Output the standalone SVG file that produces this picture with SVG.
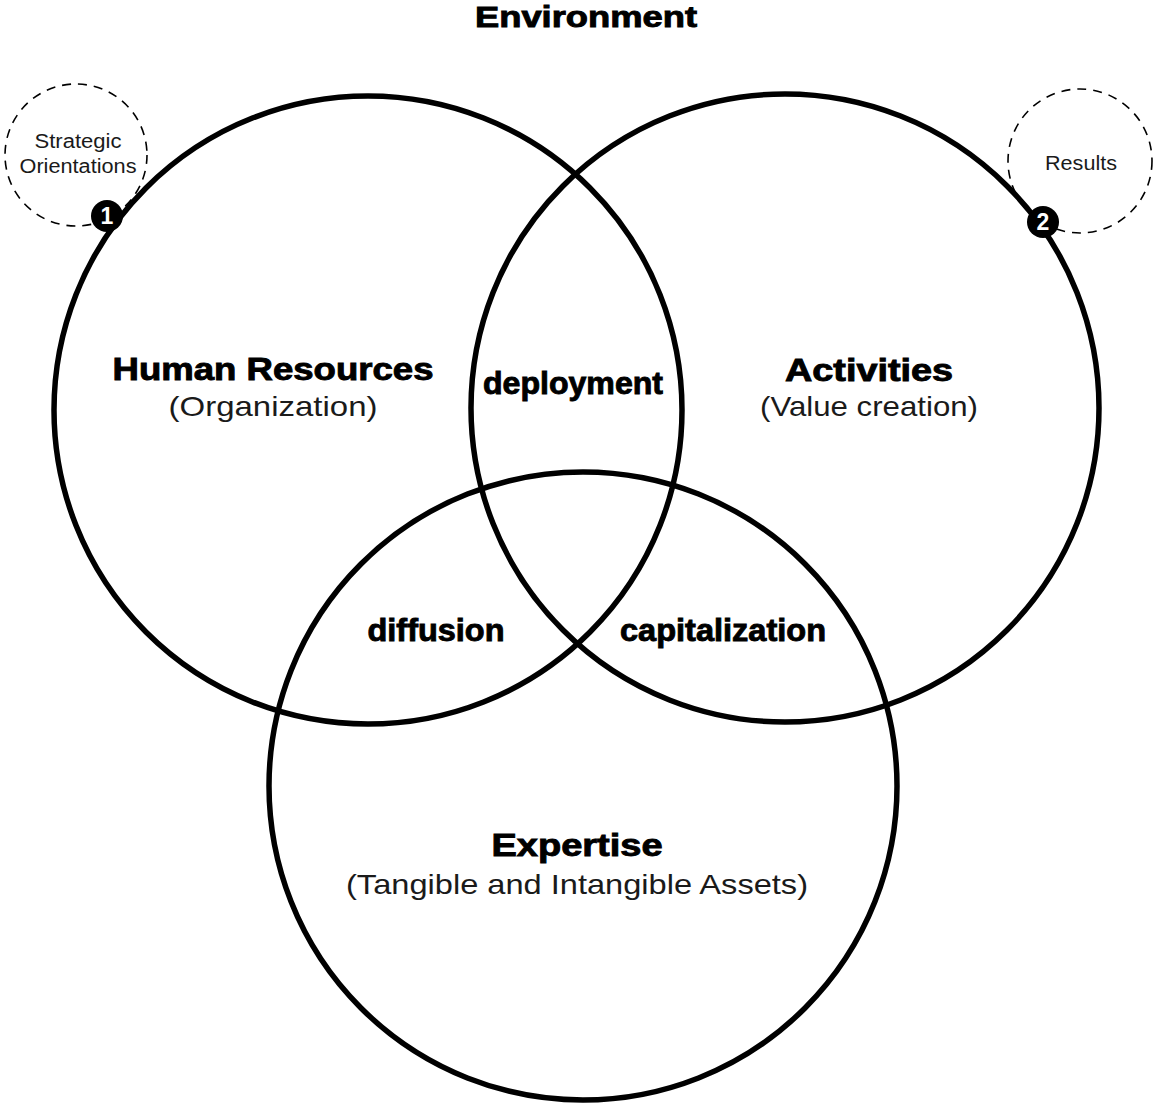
<svg xmlns="http://www.w3.org/2000/svg" width="1154" height="1106" viewBox="0 0 1154 1106">
<style>
.main{fill:none;stroke:#000;stroke-width:5.5}
.dash{fill:none;stroke:#000;stroke-width:1.6;stroke-dasharray:9 7}
.b{font-family:"Liberation Sans",Arial,sans-serif;font-weight:bold;font-size:31px;fill:#000;stroke:#000;stroke-width:0.9;text-anchor:middle}
.e{font-family:"Liberation Sans",Arial,sans-serif;font-weight:bold;font-size:29px;fill:#000;stroke:#000;stroke-width:0.9;text-anchor:middle}
.r{font-family:"Liberation Sans",Arial,sans-serif;font-size:28px;fill:#1a1a1a;text-anchor:middle}
.s{font-family:"Liberation Sans",Arial,sans-serif;font-size:20px;fill:#1a1a1a;text-anchor:middle}
.n{font-family:"Liberation Sans",Arial,sans-serif;font-weight:bold;font-size:23px;fill:#fff;text-anchor:middle}
</style>
<rect width="1154" height="1106" fill="#fff"/>
<text class="e" x="586" y="27" textLength="222" lengthAdjust="spacingAndGlyphs">Environment</text>
<g id="strategic-orientations">
<circle class="dash" cx="76" cy="155" r="71"/>
<text class="s" x="78" y="148" textLength="87" lengthAdjust="spacingAndGlyphs">Strategic</text>
<text class="s" x="78" y="173" textLength="117" lengthAdjust="spacingAndGlyphs">Orientations</text>
</g>
<g id="results">
<circle class="dash" cx="1080" cy="161" r="72"/>
<text class="s" x="1081" y="170" textLength="72" lengthAdjust="spacingAndGlyphs">Results</text>
</g>
<g id="human-resources">
<circle class="main" cx="368" cy="410" r="314"/>
<text class="b" x="273" y="380" textLength="321" lengthAdjust="spacingAndGlyphs">Human Resources</text>
<text class="r" x="273" y="416" textLength="209" lengthAdjust="spacingAndGlyphs">(Organization)</text>
</g>
<g id="activities">
<circle class="main" cx="785" cy="408" r="314"/>
<text class="b" x="869" y="381" textLength="168" lengthAdjust="spacingAndGlyphs">Activities</text>
<text class="r" x="869" y="416" textLength="218" lengthAdjust="spacingAndGlyphs">(Value creation)</text>
</g>
<g id="expertise">
<circle class="main" cx="583" cy="786" r="314"/>
<text class="b" x="577" y="856" textLength="171" lengthAdjust="spacingAndGlyphs">Expertise</text>
<text class="r" x="577" y="894" textLength="462" lengthAdjust="spacingAndGlyphs">(Tangible and Intangible Assets)</text>
</g>
<g id="deployment">
<text class="b" x="573" y="394" textLength="180" lengthAdjust="spacingAndGlyphs">deployment</text>
</g>
<g id="diffusion">
<text class="b" x="436" y="641" textLength="137" lengthAdjust="spacingAndGlyphs">diffusion</text>
</g>
<g id="capitalization">
<text class="b" x="723" y="641" textLength="206" lengthAdjust="spacingAndGlyphs">capitalization</text>
</g>
<g id="marker-1">
<circle cx="107" cy="216" r="16" fill="#000"/>
<text class="n" x="107" y="224">1</text>
</g>
<g id="marker-2">
<circle cx="1043" cy="222" r="16" fill="#000"/>
<text class="n" x="1043" y="230">2</text>
</g>
<g id="connectors"/>
</svg>
